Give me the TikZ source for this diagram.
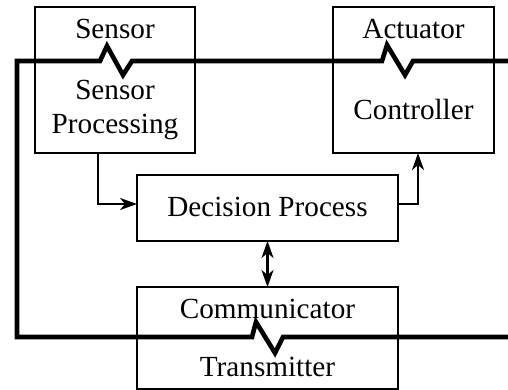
\documentclass[tikz,border=0pt]{standalone}
\usepackage{fontspec}
\setmainfont{Liberation Serif}
\usepackage{tikz}
\usetikzlibrary{positioning, arrows.meta}

\begin{document}
\begin{tikzpicture}[
  x=0.5pt, y=-0.5pt,
  unit/.style={draw, line width=1.15pt, inner sep=0pt, outer sep=0pt},
  lbl/.style={font=\fontsize{14.6}{17}\selectfont, align=center, inner sep=1pt},
  arr/.style={-{Stealth[length=8.5pt, width=6pt, inset=2.5pt]}, line width=1.1pt},
  darr/.style={{Stealth[length=8.5pt, width=6pt, inset=2.5pt]}-{Stealth[length=8.5pt, width=6pt, inset=2.5pt]}, line width=1.1pt},
  link/.style={line width=2.3pt, miter limit=10}
]
  \useasboundingbox (0,0) rectangle (508,390);

  % the four blocks
  \node[unit, minimum width=80pt,   minimum height=73pt]   (sensor)   at (115,80)    {};
  \node[unit, minimum width=80.5pt, minimum height=73pt]   (actuator) at (413.5,80)  {};
  \node[unit, minimum width=130.5pt, minimum height=33pt]  (decision) at (267.5,208) {};
  \node[unit, minimum width=130.5pt, minimum height=51pt]  (comm)     at (267.5,338) {};

  % block texts
  \node[lbl] (sensorTop)  at (115,29)    {Sensor};
  \node[lbl] (sensorProc) at (115,110)   {Sensor\\Processing};
  \node[lbl] (actTop)     at (413.5,29)  {Actuator};
  \node[lbl] (actCtrl)    at (413.5,110) {Controller};
  \node[lbl] (decText)    at (267.5,207) {Decision Process};
  \node[lbl] (commTop)    at (267.5,309) {Communicator};
  \node[lbl] (commTx)     at (267.5,367) {Transmitter};

  % signal flow
  \draw[arr]  ([xshift=-8.5pt]sensor.south) |- ([yshift=2pt]decision.west);
  \draw[arr]  ([yshift=2pt]decision.east) -| ([xshift=2.25pt]actuator.south);
  \draw[darr] (decision.south) -- (comm.north);

  % the link line with its breaks
  \coordinate (linkTop) at (508,61);
  \coordinate (linkBot) at (508,337);
  \draw[link] (linkTop) -- (413,61) -- (405,75) -- (387,45) -- (382,61)
    -- (132,61) -- (123,75) -- (107,46) -- (100,61) -- (17,61)
    -- (17,337) -- (252,337) -- (256,322) -- (275,353) -- (283,337)
    -- (linkBot);
\end{tikzpicture}
\end{document}
